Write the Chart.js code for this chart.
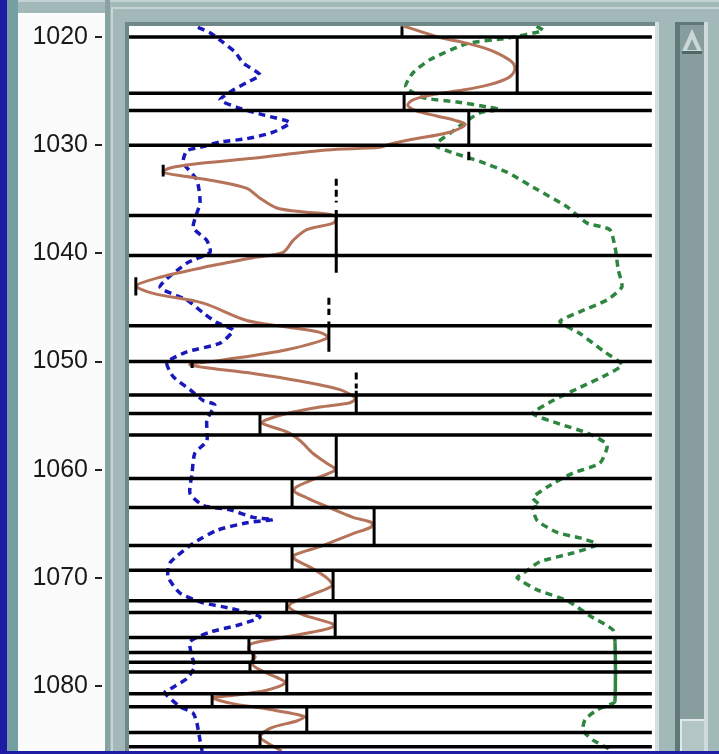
<!DOCTYPE html>
<html>
<head>
<meta charset="utf-8">
<script src="https://cdn.jsdelivr.net/npm/chart.js@4.4.1/dist/chart.umd.min.js"></script>
<style>
  html, body { margin: 0; padding: 0; }
  body { width: 719px; height: 754px; position: relative; overflow: hidden; background: #a3b8b8; }
  .box { position: absolute; }
  #logChart { position: absolute; left: 18px; top: 0; }
</style>
</head>
<body>
<!-- window frame -->
<div class="box" style="left:0;top:0;width:7px;height:754px;background:#1c1ca4"></div>
<div class="box" style="left:7px;top:0;width:11px;height:754px;background:#74a0a4"></div>
<div class="box" style="left:18px;top:0;width:701px;height:2px;background:#c3d2d2"></div>
<div class="box" style="left:113px;top:7px;width:606px;height:2px;background:#c6d4d4"></div>
<div class="box" style="left:18px;top:13px;width:87px;height:741px;background:#fbfbfb"></div>
<div class="box" style="left:105px;top:0;width:5px;height:754px;background:#88a1a1"></div>
<div class="box" style="left:111px;top:7px;width:2px;height:747px;background:#c6d4d4"></div>
<!-- plot frame -->
<div class="box" style="left:125px;top:22px;width:530px;height:732px;background:#6f8888"></div>
<div class="box" style="left:655px;top:22px;width:4px;height:732px;background:#d3dfdf"></div>
<div class="box" style="left:129px;top:26px;width:526px;height:728px;background:#ffffff"></div>
<!-- scrollbar -->
<div class="box" style="left:675px;top:22px;width:33px;height:732px;background:#5f7979"></div>
<div class="box" style="left:680px;top:25px;width:24px;height:729px;background:#889e9e"></div>
<div class="box" style="left:704px;top:22px;width:4px;height:732px;background:#cfdbdb"></div>
<div class="box" style="left:682px;top:29px;width:0;height:0;border-style:solid;border-width:0 10px 22px 10px;border-color:transparent transparent #cbd8d8 transparent"></div>
<div class="box" style="left:687px;top:39px;width:0;height:0;border-style:solid;border-width:0 5px 11px 5px;border-color:transparent transparent #889e9e transparent"></div>
<div class="box" style="left:682px;top:51px;width:20px;height:3px;background:#4f6767"></div>
<div class="box" style="left:680px;top:719px;width:22px;height:35px;background:#b4c5c5;border-top:2px solid #e0e8e8;border-left:2px solid #e0e8e8"></div>

<canvas id="logChart" width="637" height="751"></canvas>
<div class="box" style="left:0;top:751px;width:719px;height:3px;background:#1c1ca4"></div>

<script>
// depth axis labels
const depthTicks = [1020, 1030, 1040, 1050, 1060, 1070, 1080];

// bed boundaries (depth)
const bedBoundaries = [1020.0, 1025.2, 1026.8, 1030.0, 1036.5, 1040.2, 1046.7, 1050.0, 1053.1, 1054.8,
    1056.8, 1060.8, 1063.5, 1067.0, 1069.3, 1072.1, 1073.2, 1075.5, 1076.9, 1077.8,
    1078.7, 1080.7, 1081.9, 1084.3, 1085.6];

// blocked log: top, base and value of each bed
const blockTop = [1019.0, 1020.0, 1025.2, 1026.8, 1030.6, 1031.8, 1036.0, 1042.2, 1046.3, 1049.9,
    1052.7, 1054.8, 1056.8, 1060.8, 1063.5, 1067.0, 1069.3, 1072.1, 1073.2, 1075.5,
    1076.9, 1077.8, 1078.7, 1080.7, 1081.9, 1084.3];
const blockBase = [1020.0, 1025.2, 1026.8, 1030.0, 1031.4, 1032.9, 1041.8, 1043.9, 1049.1, 1050.6,
    1054.8, 1056.8, 1060.8, 1063.5, 1067.0, 1069.3, 1072.1, 1073.2, 1075.5, 1076.9,
    1077.8, 1078.7, 1080.7, 1081.9, 1084.3, 1085.6];
const blockValue = [51.9, 73.8, 52.3, 64.6, 64.6, 6.5, 39.4, 1.3, 38.0, 12.0,
    43.2, 24.9, 39.4, 31.0, 46.6, 31.0, 38.8, 30.0, 39.2, 22.8,
    23.6, 23.0, 30.0, 15.8, 33.8, 24.9];

// dashed peak markers
const peakTop = [1033.1, 1044.1, 1051.0];
const peakBase = [1035.3, 1045.7, 1052.5];
const peakValue = [39.4, 38.0, 43.2];

// brown curve
const brownDepth = [1019.0, 1019.5, 1020.1, 1020.5, 1021.0, 1021.6, 1022.4, 1023.1, 1023.8, 1024.4,
    1024.9, 1025.3, 1025.8, 1026.3, 1026.8, 1027.3, 1027.7, 1028.1, 1028.8, 1029.5,
    1029.9, 1030.2, 1030.45, 1031.2, 1031.65, 1032.1, 1032.5, 1032.9, 1033.4, 1034.0,
    1034.9, 1035.8, 1036.2, 1036.4, 1036.7, 1037.2, 1037.8, 1038.8, 1039.9, 1040.4,
    1041.3, 1042.2, 1043.0, 1043.7, 1044.6, 1046.2, 1046.8, 1047.3, 1047.8, 1048.9,
    1049.9, 1050.3, 1051.1, 1051.8, 1052.6, 1053.4, 1053.8, 1054.2, 1054.8, 1055.4,
    1055.7, 1056.5, 1057.3, 1058.5, 1059.4, 1060.0, 1060.9, 1061.6, 1062.0, 1062.6,
    1063.4, 1064.4, 1064.9, 1065.3, 1065.9, 1067.1, 1067.9, 1068.3, 1069.0, 1070.0,
    1070.7, 1071.5, 1072.3, 1072.7, 1073.4, 1074.2, 1074.5, 1075.0, 1075.7, 1076.1,
    1076.6, 1077.3, 1077.8, 1078.4, 1079.2, 1079.7, 1080.4, 1080.9, 1081.1, 1081.6,
    1082.1, 1082.8, 1083.2, 1083.9, 1084.7, 1085.3, 1086.0];
const brownValue = [52.3, 55.5, 59.5, 63.5, 67.5, 70.5, 73.0, 73.3, 72.0, 68.5,
    63.5, 58.0, 54.0, 53.0, 54.5, 58.5, 62.0, 63.9, 61.0, 53.4,
    49.6, 47.7, 37.6, 23.6, 14.1, 7.8, 6.5, 11.0, 17.3, 22.4,
    24.9, 28.1, 33.8, 38.2, 39.4, 38.8, 33.8, 31.2, 29.3, 23.6,
    14.1, 5.9, 1.4, 4.6, 14.1, 22.4, 30.0, 36.3, 37.8, 30.0,
    17.3, 11.6, 23.6, 32.5, 40.1, 43.0, 42.0, 36.3, 30.0, 26.0,
    25.3, 30.0, 32.5, 35.0, 37.6, 39.2, 35.0, 31.8, 31.4, 33.8,
    37.6, 42.6, 46.2, 46.0, 42.6, 36.3, 31.4, 31.6, 34.4, 37.6,
    38.6, 35.0, 31.0, 30.4, 33.0, 38.5, 39.0, 35.0, 27.0, 23.2,
    22.8, 24.0, 23.2, 24.5, 28.1, 29.7, 26.0, 19.0, 16.0, 19.5,
    26.0, 33.3, 32.0, 26.8, 24.9, 26.5, 29.0];

// blue curve
const blueDepth = [1019.1, 1019.6, 1020.5, 1021.4, 1022.4, 1023.5, 1024.2, 1024.9, 1025.8, 1026.5,
    1027.2, 1027.9, 1028.8, 1029.4, 1029.7, 1030.2, 1030.5, 1031.6, 1033.2, 1035.3,
    1037.6, 1038.8, 1039.9, 1040.9, 1043.1, 1044.3, 1045.5, 1046.4, 1047.1, 1048.3,
    1049.1, 1050.1, 1051.4, 1052.6, 1053.6, 1054.0, 1055.4, 1057.3, 1058.5, 1060.3,
    1062.2, 1063.3, 1063.7, 1064.4, 1064.6, 1064.9, 1065.6, 1066.8, 1068.6, 1069.9,
    1071.4, 1072.3, 1072.8, 1073.6, 1074.4, 1075.0, 1075.9, 1077.3, 1078.2, 1079.3,
    1080.1, 1080.6, 1081.9, 1082.5, 1083.4, 1085.0, 1086.0];
const blueValue = [13.1, 15.4, 17.9, 20.2, 21.7, 24.9, 22.4, 19.8, 17.3, 20.5,
    25.5, 30.6, 27.4, 22.4, 17.3, 13.5, 11.0, 10.3, 12.9, 13.5,
    12.2, 14.8, 15.4, 11.0, 5.9, 11.0, 14.1, 16.7, 19.8, 17.3,
    11.0, 7.2, 8.4, 11.6, 14.1, 16.3, 14.8, 14.8, 12.5, 12.0,
    11.6, 14.1, 19.2, 23.6, 27.4, 22.4, 16.7, 12.2, 7.8, 7.4,
    9.7, 14.1, 19.2, 24.9, 20.5, 15.4, 11.6, 12.0, 12.5, 11.0,
    8.4, 6.8, 9.7, 12.2, 12.9, 13.5, 13.9];

// green curve
const greenDepth = [1019.0, 1019.4, 1020.1, 1020.6, 1022.1, 1023.3, 1024.6, 1025.6, 1026.0, 1026.5,
    1026.7, 1027.0, 1028.0, 1028.9, 1030.0, 1030.7, 1031.5, 1032.5, 1034.1, 1035.7,
    1037.2, 1037.8, 1039.4, 1040.0, 1041.5, 1043.1, 1044.3, 1045.4, 1046.3, 1047.4,
    1049.0, 1050.3, 1051.2, 1052.4, 1053.6, 1054.8, 1055.7, 1056.6, 1057.7, 1059.4,
    1060.3, 1061.6, 1062.6, 1063.3, 1063.5, 1064.7, 1065.8, 1066.3, 1066.9, 1067.7,
    1068.5, 1069.6, 1070.0, 1071.1, 1072.1, 1073.5, 1074.8, 1076.0, 1081.4, 1081.6,
    1082.2, 1083.1, 1084.1, 1085.0, 1085.7, 1086.0];
const greenValue = [77.5, 78.7, 71.9, 64.3, 57.2, 54.0, 52.6, 55.9, 62.4, 68.6,
    70.5, 66.7, 63.5, 61.0, 58.2, 61.6, 66.7, 71.9, 77.6, 83.3,
    87.1, 91.4, 92.4, 92.6, 93.0, 93.7, 90.9, 85.7, 81.9, 85.7,
    90.1, 93.7, 90.9, 85.7, 80.6, 76.8, 81.4, 87.1, 90.9, 89.5,
    84.4, 79.5, 76.8, 78.1, 76.8, 77.6, 81.4, 85.7, 89.0, 84.4,
    78.1, 74.9, 73.8, 77.6, 83.3, 87.6, 92.0, 92.4, 92.4, 92.0,
    89.0, 86.7, 86.3, 88.2, 90.9, 91.5];

function curve(depths, values) {
    return depths.map((d, i) => ({ x: values[i], y: d }));
}

function verticals(tops, bases, values) {
    const pts = [];
    tops.forEach((t, i) => {
        pts.push({ x: values[i], y: t }, { x: values[i], y: bases[i] }, { x: null, y: null });
    });
    return pts;
}

const boundaryPts = [];
bedBoundaries.forEach(d => {
    boundaryPts.push({ x: 0, y: d }, { x: 99.4, y: d }, { x: null, y: null });
});

// small tick marks left of the depth labels
const depthTickMarks = {
    id: 'depthTickMarks',
    afterDraw(chart) {
        const scale = chart.scales.y;
        const c = chart.ctx;
        const left = chart.chartArea.left;
        c.save();
        c.strokeStyle = '#222';
        c.lineWidth = 2;
        scale.ticks.forEach(t => {
            const py = Math.round(scale.getPixelForValue(t.value));
            c.beginPath();
            c.moveTo(left - 34, py);
            c.lineTo(left - 27, py);
            c.stroke();
        });
        c.restore();
    }
};

new Chart(document.getElementById('logChart'), {
    type: 'scatter',
    data: {
        datasets: [{
            label: 'Bed boundaries',
            data: boundaryPts,
            showLine: true,
            borderColor: '#000',
            borderWidth: 3.5,
            pointRadius: 0
        }, {
            label: 'Blocked',
            data: verticals(blockTop, blockBase, blockValue),
            showLine: true,
            borderColor: '#000',
            borderWidth: 3,
            pointRadius: 0
        }, {
            label: 'Peaks',
            data: verticals(peakTop, peakBase, peakValue),
            showLine: true,
            borderColor: '#000',
            borderWidth: 3,
            borderDash: [7, 4],
            pointRadius: 0
        }, {
            label: 'Brown',
            data: curve(brownDepth, brownValue),
            showLine: true,
            borderColor: '#b5735a',
            borderWidth: 3,
            tension: 0.3,
            pointRadius: 0
        }, {
            label: 'Blue',
            data: curve(blueDepth, blueValue),
            showLine: true,
            borderColor: '#1818bb',
            borderWidth: 3.5,
            borderDash: [7, 5],
            tension: 0.2,
            pointRadius: 0
        }, {
            label: 'Green',
            data: curve(greenDepth, greenValue),
            showLine: true,
            borderColor: '#2e8540',
            borderWidth: 3.5,
            borderDash: [7, 5],
            tension: 0.2,
            segment: {
                borderDash: c => (c.p0.parsed.x === c.p1.parsed.x ? [] : [7, 5])
            },
            pointRadius: 0
        }]
    },
    options: {
        responsive: false,
        animation: false,
        devicePixelRatio: 1,
        layout: { padding: { top: 26, bottom: 0, left: 0, right: 0 } },
        plugins: {
            legend: { display: false },
            tooltip: { enabled: false }
        },
        scales: {
            x: { type: 'linear', display: false, min: 0, max: 100 },
            y: {
                type: 'linear',
                reverse: true,
                min: 1018.98,
                max: 1086.0,
                afterFit: s => {
                    s.width = 111;
                    s.paddingTop = 0;
                    s.paddingBottom = 0;
                },
                afterBuildTicks: s => { s.ticks = depthTicks.map(v => ({ value: v })); },
                grid: { display: false, drawTicks: false },
                border: { display: false },
                ticks: {
                    padding: 41,
                    color: '#1a1a1a',
                    font: { family: "'Liberation Sans', Arial, sans-serif", size: 25 },
                    callback: v => v
                }
            }
        }
    },
    plugins: [depthTickMarks]
});
</script>
</body>
</html>
